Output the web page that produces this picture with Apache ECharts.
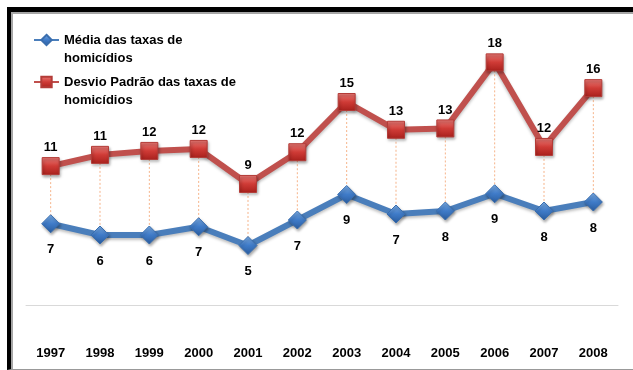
<!DOCTYPE html>
<html>
<head>
<meta charset="utf-8">
<script src="https://cdn.jsdelivr.net/npm/echarts@6/dist/echarts.min.js"></script>
<style>
  html, body { margin: 0; padding: 0; background: #fff; }
  #frame {
    position: absolute; left: 7px; top: 7px; width: 700px; height: 357px;
    border-left: 4px solid #000; border-top: 5px solid #000; border-bottom: 1px solid #999;
    box-shadow: inset 2px 2px 0 #a6a6a6;
  }
  #chart { position: absolute; left: 0; top: 0; width: 633px; height: 370px; }
</style>
</head>
<body>
<div id="frame"></div>
<div id="chart"></div>
<script>
// anos
var years = ['1997', '1998', '1999', '2000', '2001', '2002', '2003', '2004', '2005', '2006', '2007', '2008'];
// Média das taxas de homicídios
var media = [6.75, 6.0, 6.0, 6.55, 5.3, 7.0, 8.7, 7.4, 7.6, 8.75, 7.6, 8.2];
// Desvio Padrão das taxas de homicídios
var desvio = [10.55, 11.4, 11.7, 11.85, 9.2, 11.6, 15.4, 13.3, 13.4, 18.4, 12.0, 16.45];

var nomeMedia = 'Média das taxas de homicídios';
var nomeDesvio = 'Desvio Padrão das taxas de homicídios';

// escalas (eixos ocultos)
var desvioMin = -1.7, desvioMax = 21.0;
var mediaMin = -0.2, mediaMax = 19.8;

var chart = echarts.init(document.getElementById('chart'));

// linhas de ligação: valor da média convertido para a escala do desvio
var ligacoes = [];
for (var i = 0; i < years.length; i++) {
    var m = desvioMin + (media[i] - mediaMin) / (mediaMax - mediaMin) * (desvioMax - desvioMin);
    ligacoes.push([i, desvio[i], m]);
}

var fonte = '"Liberation Sans", Arial, sans-serif';

function legenda(nome, top) {
    return {
        data: [nome],
        left: 33,
        top: top,
        padding: 0,
        itemWidth: 25,
        itemHeight: 13,
        selectedMode: false,
        // linha vazia no início para que a 1a linha fique alinhada com o ícone
        formatter: function (n) {
            return '\n' + n.replace(' de homic', ' de\nhomic');
        },
        textStyle: {
            fontFamily: fonte,
            fontWeight: 'bold',
            fontSize: 13,
            color: '#000',
            lineHeight: 18
        }
    };
}

var option = {
    animation: false,
    legend: [legenda(nomeMedia, 13), legenda(nomeDesvio, 55)],
    grid: { left: 26, right: 15, top: 28, bottom: 42 },
    xAxis: {
        type: 'category',
        data: years,
        axisLine: { lineStyle: { color: '#d9d9d9', width: 1 } },
        axisTick: { show: false },
        axisLabel: {
            margin: 19,
            fontFamily: fonte,
            fontWeight: 'bold',
            fontSize: 13,
            color: '#000'
        }
    },
    yAxis: [
        { type: 'value', min: desvioMin, max: desvioMax, show: false, splitLine: { show: false } },
        { type: 'value', min: mediaMin, max: mediaMax, show: false, splitLine: { show: false } }
    ],
    series: [
        {
            type: 'custom',
            silent: true,
            yAxisIndex: 0,
            z: 1,
            data: ligacoes,
            encode: { x: 0, y: [1, 2] },
            renderItem: function (params, api) {
                var p1 = api.coord([api.value(0), api.value(1)]);
                var p2 = api.coord([api.value(0), api.value(2)]);
                return {
                    type: 'line',
                    shape: { x1: p1[0], y1: p1[1], x2: p2[0], y2: p2[1] },
                    style: { stroke: '#f6b48a', lineWidth: 1, lineDash: [2, 2] }
                };
            }
        },
        {
            name: nomeMedia,
            type: 'line',
            yAxisIndex: 1,
            z: 3,
            data: media,
            symbol: 'diamond',
            symbolSize: [18, 18],
            lineStyle: {
                color: '#4a7ebb', width: 6,
                shadowColor: 'rgba(0,0,0,0.25)', shadowBlur: 3, shadowOffsetY: 2
            },
            itemStyle: {
                color: new echarts.graphic.LinearGradient(0, 0, 0, 1, [
                    { offset: 0, color: '#7fb0e8' },
                    { offset: 0.5, color: '#3f7bc8' },
                    { offset: 1, color: '#2a5c9e' }
                ]),
                borderColor: '#3a6eae', borderWidth: 1,
                shadowColor: 'rgba(0,0,0,0.35)', shadowBlur: 3, shadowOffsetX: 1, shadowOffsetY: 2
            },
            label: {
                show: true,
                position: 'bottom',
                distance: 10,
                fontFamily: fonte,
                fontWeight: 'bold',
                fontSize: 13,
                color: '#000',
                formatter: function (p) { return Math.round(p.value); }
            }
        },
        {
            name: nomeDesvio,
            type: 'line',
            yAxisIndex: 0,
            z: 3,
            data: desvio,
            symbol: 'rect',
            symbolSize: 17,
            lineStyle: {
                color: '#c0504d', width: 6,
                shadowColor: 'rgba(0,0,0,0.25)', shadowBlur: 3, shadowOffsetY: 2
            },
            itemStyle: {
                color: new echarts.graphic.LinearGradient(0, 0, 0, 1, [
                    { offset: 0, color: '#ec7c78' },
                    { offset: 0.5, color: '#cf3b36' },
                    { offset: 1, color: '#a8201c' }
                ]),
                borderColor: '#b33c38', borderWidth: 1,
                shadowColor: 'rgba(0,0,0,0.35)', shadowBlur: 3, shadowOffsetX: 1, shadowOffsetY: 2
            },
            label: {
                show: true,
                position: 'top',
                distance: 3,
                fontFamily: fonte,
                fontWeight: 'bold',
                fontSize: 13,
                color: '#000',
                formatter: function (p) { return Math.round(p.value); }
            }
        }
    ]
};

chart.setOption(option);
</script>
</body>
</html>
